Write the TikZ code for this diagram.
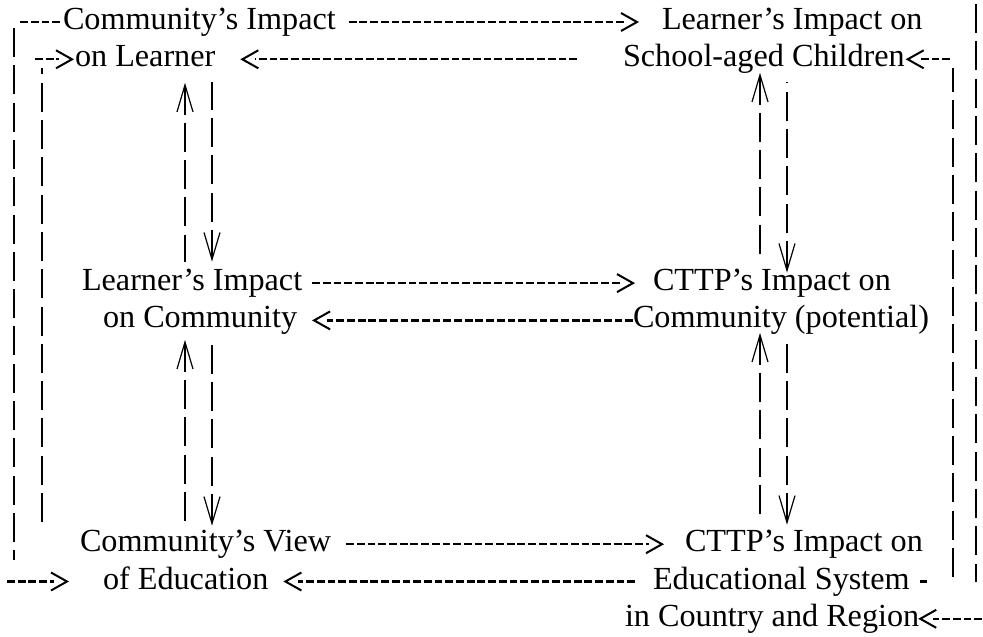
\documentclass[tikz,border=0pt]{standalone}
\usepackage{fontspec}
\setmainfont{Liberation Serif}
\usetikzlibrary{arrows.meta,calc,decorations.markings}

\tikzset{
  lbl/.style={anchor=base west, inner sep=0pt, outer sep=0pt,
    font=\fontsize{32.2}{38}\selectfont},
  % typed-hyphen style horizontal links
  hdash/.style={line width=2.2pt, dash pattern=on 7.8pt off 2.9pt},
  % stacked-bar style vertical links
  vbar/.style={line width=2.1pt, dash pattern=on 29pt off 8.3pt},
  % open chevron head drawn just past the end of the dashes
  chev/.style={shorten >=13pt,
    postaction={decorate, decoration={markings, mark=at position 1 with {
      \draw[solid, line width=2pt, shorten >=0pt, shorten <=0pt, line join=miter]
        (-16pt,9pt) -- (0pt,0pt) -- (-16pt,-9pt);}}}},
  % long dashed vertical arrows with a thin barb at the start point
  vline/.style={line width=2pt, dash pattern=on 29pt off 8.3pt},
  vtip/.style={>={Straight Barb[length=27pt,width=16pt,line width=1.2pt]}, <-},
}

\begin{document}
\begin{tikzpicture}[x=1pt,y=-1pt]
\fill[white] (0,0) rectangle (983,637);
\useasboundingbox (0,0) rectangle (983,637);

% ---- labels
\node[lbl] (cil1) at (63,29.5)   {Community's Impact};
\node[lbl] (cil2) at (75,66.8)   {on Learner};
\node[lbl] (lsa1) at (662,29.5)  {Learner's Impact on};
\node[lbl] (lsa2) at (623,66.8)  {School-aged Children};
\node[lbl] (lic1) at (82,290.6)  {Learner's Impact};
\node[lbl] (lic2) at (103,327.9) {on Community};
\node[lbl] (ctc1) at (653,290.6) {CTTP's Impact on};
\node[lbl] (ctc2) at (633,327.9) {Community (potential)};
\node[lbl] (cve1) at (80,551.7)  {Community's View};
\node[lbl] (cve2) at (103,589.0) {of Education};
\node[lbl] (ces1) at (685,551.7) {CTTP's Impact on};
\node[lbl] (ces2) at (653,589.0) {Educational System};
\node[lbl] (ces3) at (625,626.3) {in Country and Region};

% ---- columns of the vertical arrow pairs
\coordinate (xa) at (185,0);
\coordinate (xb) at (212,0);
\coordinate (xc) at (760,0);
\coordinate (xd) at (787,0);

% left column
\draw[vline,vtip] ($(cil2.base -| xa)+(0,16)$) -- ($(lic1.base -| xa)+(0,-29)$);
\draw[vline,vtip] ($(lic1.base -| xb)+(0,-29)$) -- ($(cil2.base -| xb)+(0,15)$);
\draw[vline,vtip] ($(lic2.base -| xa)+(0,12)$) -- ($(cve1.base -| xa)+(0,-30)$);
\draw[vline,vtip] ($(cve1.base -| xb)+(0,-26)$) -- ($(lic2.base -| xb)+(0,15)$);
% right column
\draw[vline,vtip] ($(lsa2.base -| xc)+(0,6)$) -- ($(ctc1.base -| xc)+(0,-29)$);
\draw[vline,vtip] ($(ctc1.base -| xd)+(0,-18)$) -- ($(lsa2.base -| xd)+(0,15)$);
\draw[vline,vtip] ($(ctc2.base -| xc)+(0,5)$) -- ($(ces1.base -| xc)+(0,-30)$);
\draw[vline,vtip] ($(ces1.base -| xd)+(0,-27)$) -- ($(ctc2.base -| xd)+(0,14)$);

% ---- horizontal links
\draw[hdash,chev] ($(cil1.base east)+(13,-7.5)$) -- ($(lsa1.base west)+(-25,-7.5)$);
\draw[hdash,chev] ($(lsa2.base west)+(-46,-7.5)$) -- ($(cil2.base east)+(27,-7.5)$);
\draw[hdash,chev] ($(lic1.base east)+(10,-7.5)$) -- ($(ctc1.base west)+(-20,-7.5)$);
\draw[hdash,chev] ($(ctc2.base west)+(0,-7.5)$) -- ($(lic2.base east)+(17,-7.5)$);
\draw[hdash,chev] ($(cve1.base east)+(15,-7.5)$) -- ($(ces1.base west)+(-23,-7.5)$);
\draw[hdash,chev] ($(ces2.base west)+(-18,-7.5)$) -- ($(cve2.base east)+(17,-7.5)$);

% ---- left outer loop: Community's Impact -> Community's View
\coordinate (lo1) at (18,22);
\coordinate (lo2) at (14,28);
\coordinate (lo3) at (14,560);
\coordinate (lo4) at (7,581.5);
\draw[hdash] ($(cil1.base west)+(-3,-7.5)$) -- (lo1);
\draw[vbar] (lo2) -- (lo3);
\draw[hdash,chev] (lo4) -- ($(cve2.base west)+(-36,-7.5)$);

% ---- left inner loop: Community's View -> on Learner
\coordinate (li1) at (42,522);
\coordinate (li2) at (42,68);
\coordinate (li3) at (35,59.3);
\draw[vbar] (li1) -- (li2);
\draw[hdash,chev] (li3) -- ($(cil2.base west)+(-3,-7.5)$);

% ---- right inner loop: Educational System -> School-aged Children
\coordinate (ri1) at (953,577);
\coordinate (ri2) at (953,68);
\coordinate (ri3) at (950,59.3);
\draw[hdash] ($(ces2.base east)+(10,-7.5)$) -- ++(8,0);
\draw[vbar] (ri1) -- (ri2);
\draw[hdash,chev] (ri3) -- ($(lsa2.base east)+(3,-7.5)$);

% ---- right outer loop: Learner's Impact on ... -> in Country and Region
\coordinate (ro1) at (976,4);
\coordinate (ro2) at (976,582);
\coordinate (ro3) at (982,618.8);
\draw[vbar] (ro1) -- (ro2);
\draw[hdash,chev] (ro3) -- ($(ces3.base east)+(1,-7.5)$);
\end{tikzpicture}
\end{document}
